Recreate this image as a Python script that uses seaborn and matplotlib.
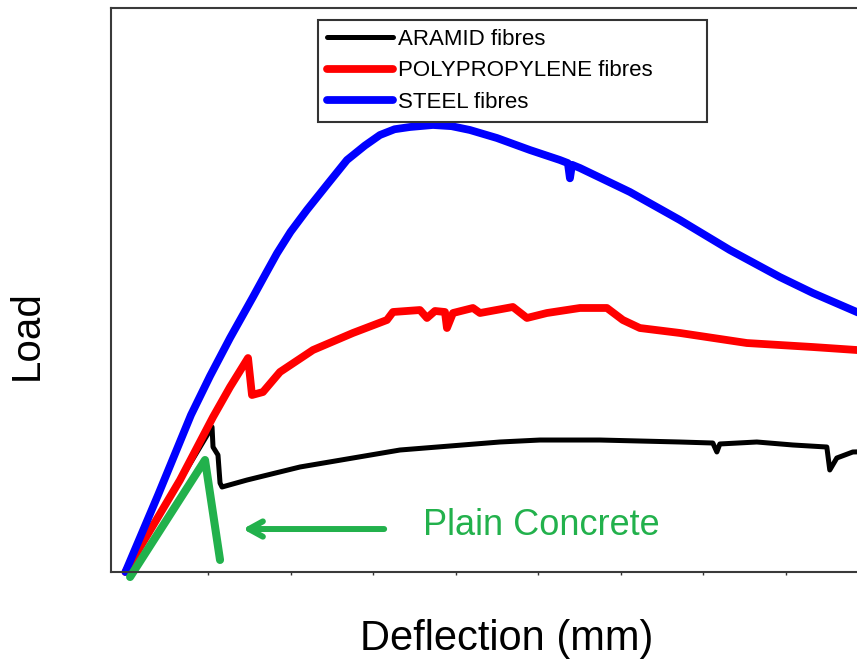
import seaborn as sns
import matplotlib.pyplot as plt
import pandas as pd

# load-deflection curves (deflection in mm, load in arbitrary units)
steel_x = [0.0, 0.395, 0.794, 1.025, 1.267, 1.545, 1.700, 1.836, 2.000, 2.199, 2.450, 2.684,
           2.900, 3.083, 3.260, 3.447, 3.725, 3.950, 4.173, 4.500, 4.900, 5.263, 5.360, 5.385,
           5.410, 5.506, 6.111, 6.717, 7.322, 7.928, 8.327, 8.860, 9.420]
steel_y = [0.0, 1.365, 2.784, 3.475, 4.149, 4.876, 5.290, 5.650, 6.030, 6.420, 6.880, 7.305,
           7.560, 7.748, 7.850, 7.890, 7.926, 7.905, 7.837, 7.695, 7.482, 7.305, 7.250, 6.980,
           7.220, 7.163, 6.738, 6.241, 5.709, 5.230, 4.947, 4.610, 4.250]

pp_x = [0.0, 0.661, 1.061, 1.267, 1.485, 1.533, 1.666, 1.872, 2.272, 2.756, 3.168, 3.241,
        3.568, 3.653, 3.750, 3.871, 3.895, 3.968, 4.210, 4.295, 4.694, 4.864, 5.106, 5.506,
        5.833, 6.026, 6.232, 6.717, 7.528, 8.327, 8.860, 9.420]
pp_y = [0.0, 1.631, 2.748, 3.280, 3.794, 3.138, 3.191, 3.546, 3.936, 4.238, 4.468, 4.610,
        4.645, 4.504, 4.628, 4.610, 4.326, 4.592, 4.681, 4.592, 4.699, 4.504, 4.592, 4.681,
        4.681, 4.468, 4.326, 4.238, 4.060, 3.989, 3.936, 3.900]

aramid_x = [0.0, 0.5, 1.049, 1.061, 1.121, 1.146, 1.170, 1.473, 2.115, 3.326, 4.537, 5.021,
            5.748, 6.717, 7.116, 7.165, 7.201, 7.649, 8.085, 8.497, 8.533, 8.618, 8.812, 9.420]
aramid_y = [0.0, 1.23, 2.571, 2.216, 2.074, 1.578, 1.507, 1.631, 1.862, 2.163, 2.305, 2.340,
            2.340, 2.305, 2.287, 2.128, 2.270, 2.305, 2.252, 2.216, 1.809, 2.021, 2.128, 2.150]

plain_x = [0.056, 0.964, 1.146]
plain_y = [-0.089, 1.986, 0.213]

series = ["ARAMID fibres", "POLYPROPYLENE fibres", "STEEL fibres"]
colors = ["#000000", "#ff0000", "#0000ff"]
widths = [3.6, 5.6, 5.6]

frames = []
for name, xs, ys in [(series[0], aramid_x, aramid_y),
                     (series[1], pp_x, pp_y),
                     (series[2], steel_x, steel_y)]:
    frames.append(pd.DataFrame({"Deflection": xs, "Load": ys, "Fibre": name}))
df = pd.concat(frames, ignore_index=True)

sns.set_style("white")
plt.rcParams["font.family"] = ["Liberation Sans", "DejaVu Sans"]
plt.rcParams["text.color"] = "black"
plt.rcParams["axes.labelcolor"] = "black"

fig = plt.figure(figsize=(8.57, 6.6), dpi=100)
ax = fig.add_axes([111 / 857, 88 / 660, 792 / 857, 564 / 660])

# black first, then red, then blue, as in the original
for name, col, lw in zip(series, colors, widths):
    sub = df[df["Fibre"] == name]
    sns.lineplot(data=sub, x="Deflection", y="Load", ax=ax, color=col, linewidth=lw,
                 sort=False, estimator=None, label=name, clip_on=False)

# plain concrete sketched on top
sns.lineplot(x=plain_x, y=plain_y, ax=ax, color="#22b14c", linewidth=5.8,
             sort=False, estimator=None, clip_on=False, solid_capstyle="round",
             solid_joinstyle="round")

ax.annotate("", xy=(1.388, 0.762), xytext=(3.168, 0.762),
            arrowprops=dict(arrowstyle="->,head_length=1.0,head_width=0.55",
                            color="#22b14c", lw=4.3, capstyle="round"))
ax.text(3.604, 0.656, "Plain Concrete", color="#22b14c", fontsize=26, va="baseline")

ax.set_xlim(-0.175, 9.42)
ax.set_ylim(0, 10)
ax.set_xticks(range(1, 10))
ax.set_yticks([])
ax.set_xticklabels([])
ax.tick_params(axis="x", direction="out", length=2, width=1, color="#333333", bottom=True)

for sp in ax.spines.values():
    sp.set_color("#3a3a3a")
    sp.set_linewidth(1.5)

ax.set_xlabel("Deflection (mm)", fontsize=30)
ax.set_ylabel("Load", fontsize=29)
ax.xaxis.set_label_coords(0.5, -0.083)
ax.yaxis.set_label_coords(-0.083, 0.42)

handles, labels = ax.get_legend_handles_labels()
order = [labels.index(s) for s in series]
leg = ax.legend([handles[i] for i in order], [labels[i] for i in order],
                loc="upper left", bbox_to_anchor=(0.261, 0.805, 0.492, 0.174),
                mode="expand", borderaxespad=0, fontsize=16, handlelength=3.0,
                handletextpad=0.2, labelspacing=0.48, borderpad=0.4,
                fancybox=False, framealpha=1, edgecolor="#333333")
leg.get_frame().set_linewidth(1.5)
for t in leg.get_texts():
    t.set_color("black")

fig.savefig("out.png", dpi=100)
